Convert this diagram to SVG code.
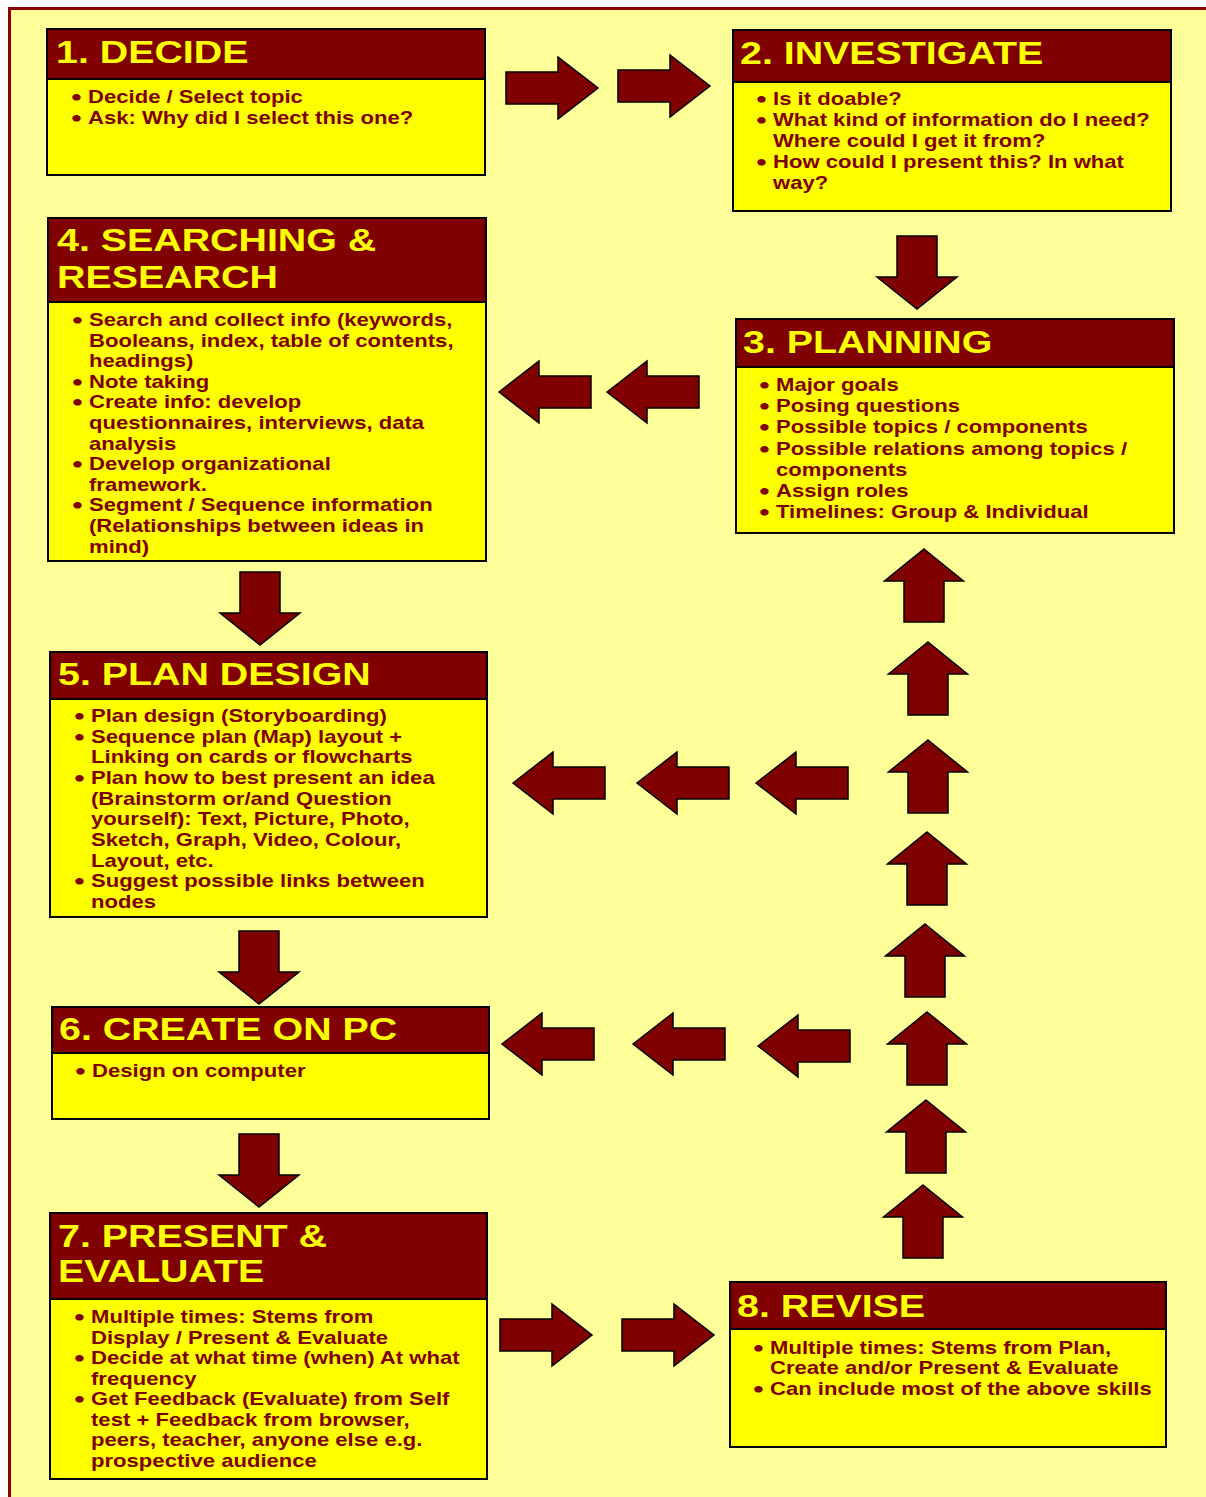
<svg xmlns="http://www.w3.org/2000/svg" width="1206" height="1497" viewBox="0 0 1206 1497">
  <style>
    .page { fill: #FFFF99; stroke: #8B0000; stroke-width: 3; }
    .card { fill: #FFFF00; stroke: #000; stroke-width: 2; }
    .band { fill: #800000; stroke: #000; stroke-width: 2; }
    .title { font-family: "Liberation Sans", Arial, sans-serif; font-weight: bold; font-size: 32px; fill: #FFFF00; }
    .txt { font-family: "Liberation Sans", Arial, sans-serif; font-weight: bold; font-size: 17.5px; fill: #800000; }
    .b { font-size: 19px; stroke: #800000; stroke-width: 1.2; }
    .arrow { fill: #800000; stroke: #000; stroke-width: 1.5; stroke-linejoin: miter; }
  </style>
  <defs>
    <!-- block arrows: right/left anchored at shaft end / tip on the centre line, up/down on the centre axis -->
    <path id="arR" d="M0,-16 H52 V-31 L92,0 L52,31 V16 H0 Z"/>
    <path id="arL" d="M0,0 L40,-31 V-16 H92 V16 H40 V31 Z"/>
    <path id="arU" d="M0,0 L39.5,32 H20 V73 H-20 V32 H-39.5 Z"/>
    <path id="arD" d="M-20,0 H20 V41 H40 L0,73 L-40,41 H-20 Z"/>
  </defs>

  <rect x="0" y="0" width="1206" height="1497" fill="#FFFFFF"/>
  <rect class="page" x="9.5" y="8.5" width="1210" height="1500"/>

  <g id="connectors">
    <use href="#arR" class="arrow" transform="translate(506,88)"/>
    <use href="#arR" class="arrow" transform="translate(618,86)"/>
    <use href="#arD" class="arrow" transform="translate(917,236)"/>
    <use href="#arL" class="arrow" transform="translate(499,392)"/>
    <use href="#arL" class="arrow" transform="translate(607,392)"/>
    <use href="#arD" class="arrow" transform="translate(260,572)"/>
    <use href="#arL" class="arrow" transform="translate(513,783)"/>
    <use href="#arL" class="arrow" transform="translate(637,783)"/>
    <use href="#arL" class="arrow" transform="translate(756,783)"/>
    <use href="#arD" class="arrow" transform="translate(259,931)"/>
    <use href="#arL" class="arrow" transform="translate(502,1044)"/>
    <use href="#arL" class="arrow" transform="translate(633,1044)"/>
    <use href="#arL" class="arrow" transform="translate(758,1046)"/>
    <use href="#arD" class="arrow" transform="translate(259,1134)"/>
    <use href="#arR" class="arrow" transform="translate(500,1335)"/>
    <use href="#arR" class="arrow" transform="translate(622,1335)"/>
    <use href="#arU" class="arrow" transform="translate(924,549)"/>
    <use href="#arU" class="arrow" transform="translate(928,642)"/>
    <use href="#arU" class="arrow" transform="translate(928,740)"/>
    <use href="#arU" class="arrow" transform="translate(927,832)"/>
    <use href="#arU" class="arrow" transform="translate(925,924)"/>
    <use href="#arU" class="arrow" transform="translate(927,1012)"/>
    <use href="#arU" class="arrow" transform="translate(926,1100)"/>
    <use href="#arU" class="arrow" transform="translate(923,1185)"/>
  </g>

  <g id="decide">
    <rect class="card" x="47" y="29" width="438" height="146"/>
    <rect class="band" x="47" y="29" width="438" height="50"/>
    <text class="title" transform="translate(56,63) scale(1.23,1)">1. DECIDE</text>
    <text class="txt" transform="translate(88,103) scale(1.263,1)">
      <tspan class="b" x="-12.5" y="0">•</tspan><tspan x="0" y="0">Decide / Select topic</tspan>
      <tspan class="b" x="-12.5" y="21">•</tspan><tspan x="0" y="21">Ask: Why did I select this one?</tspan>
    </text>
  </g>

  <g id="investigate">
    <rect class="card" x="733" y="30" width="438" height="181"/>
    <rect class="band" x="733" y="30" width="438" height="52"/>
    <text class="title" transform="translate(740,64) scale(1.23,1)">2. INVESTIGATE</text>
    <text class="txt" transform="translate(773,105) scale(1.263,1)">
      <tspan class="b" x="-12.5" y="0">•</tspan><tspan x="0" y="0">Is it doable?</tspan>
      <tspan class="b" x="-12.5" y="21">•</tspan><tspan x="0" y="21">What kind of information do I need?</tspan>
      <tspan x="0" y="42">Where could I get it from?</tspan>
      <tspan class="b" x="-12.5" y="63">•</tspan><tspan x="0" y="63">How could I present this? In what</tspan>
      <tspan x="0" y="84">way?</tspan>
    </text>
  </g>

  <g id="planning">
    <rect class="card" x="736" y="319" width="438" height="214"/>
    <rect class="band" x="736" y="319" width="438" height="48"/>
    <text class="title" transform="translate(743,353) scale(1.23,1)">3. PLANNING</text>
    <text class="txt" transform="translate(776,391) scale(1.263,1)">
      <tspan class="b" x="-12.5" y="0">•</tspan><tspan x="0" y="0">Major goals</tspan>
      <tspan class="b" x="-12.5" y="21.2">•</tspan><tspan x="0" y="21.2">Posing questions</tspan>
      <tspan class="b" x="-12.5" y="42.4">•</tspan><tspan x="0" y="42.4">Possible topics / components</tspan>
      <tspan class="b" x="-12.5" y="63.6">•</tspan><tspan x="0" y="63.6">Possible relations among topics /</tspan>
      <tspan x="0" y="84.8">components</tspan>
      <tspan class="b" x="-12.5" y="106">•</tspan><tspan x="0" y="106">Assign roles</tspan>
      <tspan class="b" x="-12.5" y="127.2">•</tspan><tspan x="0" y="127.2">Timelines: Group &amp; Individual</tspan>
    </text>
  </g>

  <g id="searching">
    <rect class="card" x="48" y="218" width="438" height="343"/>
    <rect class="band" x="48" y="218" width="438" height="84"/>
    <text class="title" transform="translate(57,251) scale(1.23,1)">
      <tspan x="0" y="0">4. SEARCHING &amp;</tspan>
      <tspan x="0" y="37">RESEARCH</tspan>
    </text>
    <text class="txt" transform="translate(89,326) scale(1.263,1)">
      <tspan class="b" x="-12.5" y="0">•</tspan><tspan x="0" y="0">Search and collect info (keywords,</tspan>
      <tspan x="0" y="20.6">Booleans, index, table of contents,</tspan>
      <tspan x="0" y="41.2">headings)</tspan>
      <tspan class="b" x="-12.5" y="61.8">•</tspan><tspan x="0" y="61.8">Note taking</tspan>
      <tspan class="b" x="-12.5" y="82.4">•</tspan><tspan x="0" y="82.4">Create info: develop</tspan>
      <tspan x="0" y="103">questionnaires, interviews, data</tspan>
      <tspan x="0" y="123.6">analysis</tspan>
      <tspan class="b" x="-12.5" y="144.2">•</tspan><tspan x="0" y="144.2">Develop organizational</tspan>
      <tspan x="0" y="164.8">framework.</tspan>
      <tspan class="b" x="-12.5" y="185.4">•</tspan><tspan x="0" y="185.4">Segment / Sequence information</tspan>
      <tspan x="0" y="206">(Relationships between ideas in</tspan>
      <tspan x="0" y="226.6">mind)</tspan>
    </text>
  </g>

  <g id="plan-design">
    <rect class="card" x="50" y="652" width="437" height="265"/>
    <rect class="band" x="50" y="652" width="437" height="47"/>
    <text class="title" transform="translate(58,685) scale(1.23,1)">5. PLAN DESIGN</text>
    <text class="txt" transform="translate(91,722) scale(1.263,1)">
      <tspan class="b" x="-12.5" y="0">•</tspan><tspan x="0" y="0">Plan design (Storyboarding)</tspan>
      <tspan class="b" x="-12.5" y="20.67">•</tspan><tspan x="0" y="20.67">Sequence plan (Map) layout +</tspan>
      <tspan x="0" y="41.33">Linking on cards or flowcharts</tspan>
      <tspan class="b" x="-12.5" y="62">•</tspan><tspan x="0" y="62">Plan how to best present an idea</tspan>
      <tspan x="0" y="82.67">(Brainstorm or/and Question</tspan>
      <tspan x="0" y="103.33">yourself): Text, Picture, Photo,</tspan>
      <tspan x="0" y="124">Sketch, Graph, Video, Colour,</tspan>
      <tspan x="0" y="144.67">Layout, etc.</tspan>
      <tspan class="b" x="-12.5" y="165.33">•</tspan><tspan x="0" y="165.33">Suggest possible links between</tspan>
      <tspan x="0" y="186">nodes</tspan>
    </text>
  </g>

  <g id="create">
    <rect class="card" x="52" y="1007" width="437" height="112"/>
    <rect class="band" x="52" y="1007" width="437" height="46"/>
    <text class="title" transform="translate(59,1040) scale(1.23,1)">6. CREATE ON PC</text>
    <text class="txt" transform="translate(92,1077) scale(1.263,1)">
      <tspan class="b" x="-12.5" y="0">•</tspan><tspan x="0" y="0">Design on computer</tspan>
    </text>
  </g>

  <g id="present">
    <rect class="card" x="50" y="1213" width="437" height="266"/>
    <rect class="band" x="50" y="1213" width="437" height="86"/>
    <text class="title" transform="translate(58,1247) scale(1.23,1)">
      <tspan x="0" y="0">7. PRESENT &amp;</tspan>
      <tspan x="0" y="35">EVALUATE</tspan>
    </text>
    <text class="txt" transform="translate(91,1323) scale(1.263,1)">
      <tspan class="b" x="-12.5" y="0">•</tspan><tspan x="0" y="0">Multiple times: Stems from</tspan>
      <tspan x="0" y="20.57">Display / Present &amp; Evaluate</tspan>
      <tspan class="b" x="-12.5" y="41.14">•</tspan><tspan x="0" y="41.14">Decide at what time (when) At what</tspan>
      <tspan x="0" y="61.71">frequency</tspan>
      <tspan class="b" x="-12.5" y="82.29">•</tspan><tspan x="0" y="82.29">Get Feedback (Evaluate) from Self</tspan>
      <tspan x="0" y="102.86">test + Feedback from browser,</tspan>
      <tspan x="0" y="123.43">peers, teacher, anyone else e.g.</tspan>
      <tspan x="0" y="144">prospective audience</tspan>
    </text>
  </g>

  <g id="revise">
    <rect class="card" x="730" y="1282" width="436" height="165"/>
    <rect class="band" x="730" y="1282" width="436" height="47"/>
    <text class="title" transform="translate(737,1317) scale(1.23,1)">8. REVISE</text>
    <text class="txt" transform="translate(770,1354) scale(1.263,1)">
      <tspan class="b" x="-12.5" y="0">•</tspan><tspan x="0" y="0">Multiple times: Stems from Plan,</tspan>
      <tspan x="0" y="20.5">Create and/or Present &amp; Evaluate</tspan>
      <tspan class="b" x="-12.5" y="41">•</tspan><tspan x="0" y="41">Can include most of the above skills</tspan>
    </text>
  </g>
</svg>
